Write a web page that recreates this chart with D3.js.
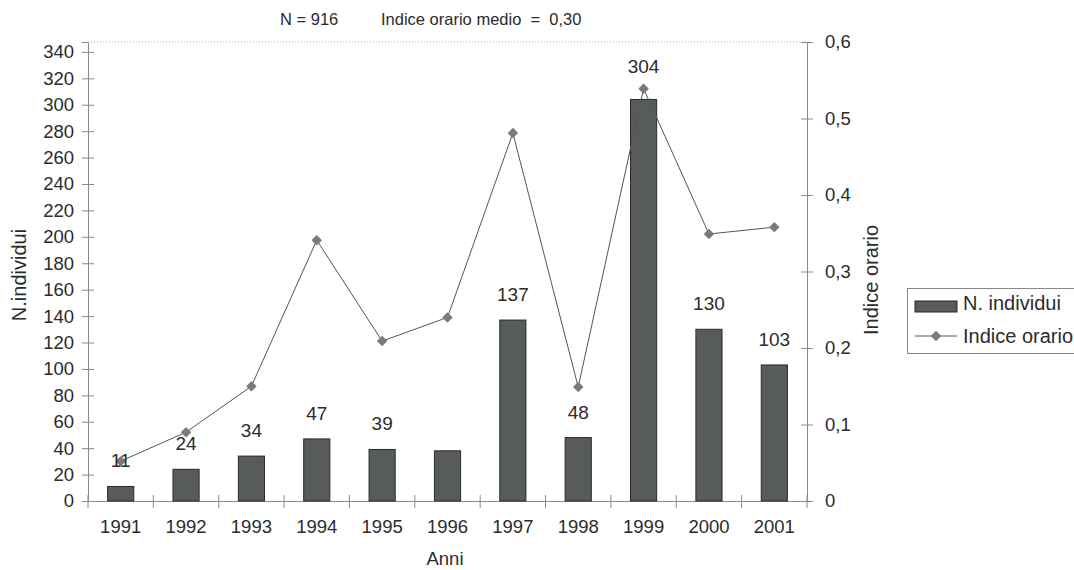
<!DOCTYPE html>
<html>
<head>
<meta charset="utf-8">
<script src="https://cdn.jsdelivr.net/npm/d3@7"></script>
<style>
  body { margin: 0; background: #fff; }
  svg text { font-family: "Liberation Sans", Arial, sans-serif; fill: #2b2b2b; }
</style>
</head>
<body>
<svg id="chart" width="1074" height="570"></svg>
<script>
// data
var years = ["1991","1992","1993","1994","1995","1996","1997","1998","1999","2000","2001"];
var individui = [11, 24, 34, 47, 39, 38, 137, 48, 304, 130, 103];
var labels = ["11","24","34","47","39",null,"137","48","304","130","103"];
var indice = [0.052, 0.090, 0.150, 0.341, 0.209, 0.240, 0.481, 0.149, 0.539, 0.349, 0.358];
var leftTicks = d3.range(0, 341, 20);
var rightTicks = [0, 0.1, 0.2, 0.3, 0.4, 0.5, 0.6];

var margin = {top: 42, left: 88, right: 807, bottom: 501};
var svg = d3.select("#chart");

var x = d3.scaleBand().domain(years).range([margin.left, margin.right]);
var yL = d3.scaleLinear().domain([0, 347.5]).range([margin.bottom, margin.top]);
var yR = d3.scaleLinear().domain([0, 0.6]).range([margin.bottom, margin.top]);

var axisCol = "#8a8a8a";
var fmt = function(d) { return d === 0 ? "0" : d3.format(".1f")(d).replace(".", ","); };

// top dotted border
svg.append("line")
    .attr("x1", margin.left).attr("x2", margin.right)
    .attr("y1", margin.top).attr("y2", margin.top)
    .attr("stroke", "#aaa").attr("stroke-dasharray", "1,2");

// left axis
var gl = svg.append("g").attr("transform", "translate(" + margin.left + ",0)")
    .call(d3.axisLeft(yL).tickValues(leftTicks).tickSize(6).tickPadding(8));
gl.selectAll(".tick line").attr("x2", 6).attr("x1", -6);

// right axis
var gr = svg.append("g").attr("transform", "translate(" + margin.right + ",0)")
    .call(d3.axisRight(yR).tickValues(rightTicks).tickFormat(fmt).tickSize(6).tickPadding(12));
gr.selectAll(".tick line").attr("x1", -6).attr("x2", 6);

// bottom axis: ticks at band edges
var gx = svg.append("g").attr("transform", "translate(0," + margin.bottom + ")")
    .call(d3.axisBottom(x).tickSize(0).tickPadding(19));
var edges = years.map(function(d) { return x(d); }).concat([margin.right]);
gx.selectAll(".edge").data(edges).enter().append("line")
    .attr("x1", function(d) { return d; }).attr("x2", function(d) { return d; })
    .attr("y1", -6).attr("y2", 7).attr("stroke", axisCol);

[gl, gr, gx].forEach(function(g) {
  g.select(".domain").attr("stroke", axisCol);
  g.selectAll(".tick line").attr("stroke", axisCol);
  g.selectAll("text").attr("font-size", 18.5).attr("fill", "#2b2b2b")
    .style("font-family", "'Liberation Sans', Arial, sans-serif");
});

// bars
var bw = x.bandwidth() * 0.4;
svg.append("g").selectAll("rect").data(years).enter().append("rect")
    .attr("x", function(d) { return x(d) + (x.bandwidth() - bw) / 2; })
    .attr("y", function(d, i) { return yL(individui[i]); })
    .attr("width", bw)
    .attr("height", function(d, i) { return yL(0) - yL(individui[i]); })
    .attr("fill", "#575c59").attr("stroke", "#2a2a2a").attr("stroke-width", 1);

// line
var cx = function(d) { return x(d) + x.bandwidth() / 2; };
svg.append("path")
    .datum(years)
    .attr("fill", "none").attr("stroke", "#555").attr("stroke-width", 1)
    .attr("d", d3.line().x(cx).y(function(d, i) { return yR(indice[i]); }));

var diamond = d3.symbol().type(d3.symbolDiamond2).size(70);
svg.append("g").selectAll("path").data(years).enter().append("path")
    .attr("d", diamond)
    .attr("transform", function(d, i) { return "translate(" + cx(d) + "," + yR(indice[i]) + ")"; })
    .attr("fill", "#7a7a7a");

// bar value labels
svg.append("g").selectAll("text").data(years).enter().append("text")
    .filter(function(d, i) { return labels[i] !== null; })
    .attr("x", cx)
    .attr("y", function(d) { var i = years.indexOf(d); return yL(individui[i]) - (i === 8 ? 26 : 19); })
    .attr("text-anchor", "middle").attr("font-size", 19)
    .text(function(d) { return labels[years.indexOf(d)]; });

// titles
svg.append("text").attr("x", 280).attr("y", 25).attr("font-size", 16.5)
    .text("N = 916");
svg.append("text").attr("x", 381).attr("y", 25).attr("font-size", 16.5)
    .attr("xml:space", "preserve")
    .text("Indice orario medio  =  0,30");

svg.append("text").attr("x", 445).attr("y", 565).attr("text-anchor", "middle")
    .attr("font-size", 18.5).text("Anni");

svg.append("text").attr("transform", "translate(26,275) rotate(-90)")
    .attr("text-anchor", "middle").attr("font-size", 20).text("N.individui");

svg.append("text").attr("transform", "translate(878,280) rotate(-90)")
    .attr("text-anchor", "middle").attr("font-size", 20).text("Indice orario");

// legend
var lg = svg.append("g");
lg.append("rect").attr("x", 907.5).attr("y", 288.5).attr("width", 175).attr("height", 65)
    .attr("fill", "#fff").attr("stroke", "#888");
lg.append("rect").attr("x", 915).attr("y", 301).attr("width", 42).attr("height", 11)
    .attr("fill", "#575c59").attr("stroke", "#2a2a2a");
lg.append("line").attr("x1", 915).attr("x2", 957).attr("y1", 336).attr("y2", 336)
    .attr("stroke", "#555");
lg.append("path").attr("d", diamond).attr("transform", "translate(936,336)").attr("fill", "#7a7a7a");
lg.append("text").attr("x", 963).attr("y", 310).attr("font-size", 20).text("N. individui");
lg.append("text").attr("x", 963).attr("y", 343).attr("font-size", 20).text("Indice orario");
</script>
</body>
</html>
